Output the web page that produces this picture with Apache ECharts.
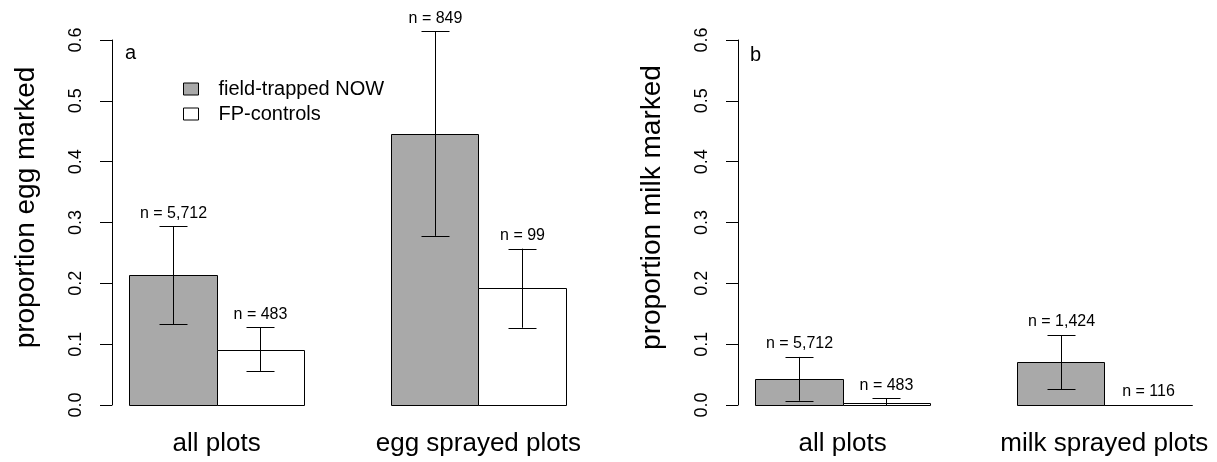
<!DOCTYPE html>
<html>
<head>
<meta charset="utf-8">
<script src="https://cdn.jsdelivr.net/npm/echarts@6/dist/echarts.min.js"></script>
<style>
  html, body { margin: 0; padding: 0; background: #fff; }
  #main { width: 1217px; height: 462px; }
</style>
</head>
<body>
<div id="main"></div>
<script>
// categories per panel
var catsEgg = ['all plots', 'egg sprayed plots'];
var catsMilk = ['all plots', 'milk sprayed plots'];
var yTicks = [0, 0.1, 0.2, 0.3, 0.4, 0.5, 0.6];

// panel a: egg marked
var eggField = [0.213, 0.445];
var eggFieldLo = [0.133, 0.278];
var eggFieldHi = [0.294, 0.614];
var eggFieldN = ['5,712', '849'];
var eggCtrl = [0.091, 0.193];
var eggCtrlLo = [0.056, 0.127];
var eggCtrlHi = [0.128, 0.257];
var eggCtrlN = ['483', '99'];

// panel b: milk marked
var milkField = [0.043, 0.070];
var milkFieldLo = [0.007, 0.026];
var milkFieldHi = [0.079, 0.115];
var milkFieldN = ['5,712', '1,424'];
var milkCtrl = [0.004, 0.0];
var milkCtrlLo = [0.0, 0.0];
var milkCtrlHi = [0.011, 0.0];
var milkCtrlN = ['483', '116'];

var FONT = '"Liberation Sans", Arial, sans-serif';
var GREY = '#a9a9a9';

// barplot-like x positions: groups centred at 2 and 5, bars of width 1
function rows(vals, lo, hi, offset) {
  return vals.map(function (v, i) {
    return [2 + 3 * i + offset, v, lo[i], hi[i]];
  });
}

function barRenderer(labels) {
  return function (params, api) {
    var x = api.value(0), v = api.value(1), lo = api.value(2), hi = api.value(3);
    var p0 = api.coord([x - 0.5, 0]);
    var p1 = api.coord([x + 0.5, v]);
    var top = api.coord([x, hi]);
    var bot = api.coord([x, lo]);
    var cx = Math.round(top[0]) + 0.5;
    var cap = 14;
    var ln = { stroke: '#000', lineWidth: 1 };
    return {
      type: 'group',
      children: [
        { type: 'rect',
          shape: { x: Math.round(p0[0]) + 0.5, y: Math.round(p1[1]) + 0.5,
                   width: Math.round(p1[0]) - Math.round(p0[0]),
                   height: Math.round(p0[1]) - Math.round(p1[1]) },
          style: { fill: api.visual('color'), stroke: '#000', lineWidth: 1 } },
        { type: 'line', shape: { x1: cx, y1: top[1], x2: cx, y2: bot[1] }, style: ln },
        { type: 'line', shape: { x1: cx - cap, y1: Math.round(top[1]) + 0.5, x2: cx + cap, y2: Math.round(top[1]) + 0.5 }, style: ln },
        { type: 'line', shape: { x1: cx - cap, y1: Math.round(bot[1]) + 0.5, x2: cx + cap, y2: Math.round(bot[1]) + 0.5 }, style: ln },
        { type: 'text',
          style: { x: cx, y: top[1] - 13, text: 'n = ' + labels[params.dataIndex],
                   fill: '#000', font: '16px ' + FONT, align: 'center', verticalAlign: 'middle' } }
      ]
    };
  };
}

function xAxisFor(cats, idx) {
  return {
    type: 'value', gridIndex: idx, min: 0.8, max: 6.2,
    axisLine: { show: false }, axisTick: { show: false }, splitLine: { show: false },
    axisLabel: {
      customValues: [2, 5],
      formatter: function (v) { return cats[Math.round((v - 2) / 3)]; },
      fontSize: 26, fontFamily: FONT, color: '#000', margin: 26
    }
  };
}

function yAxisFor(title, idx) {
  return {
    type: 'value', gridIndex: idx, min: 0, max: 0.6, interval: 0.1,
    name: title, nameLocation: 'middle', nameRotate: 90, nameGap: 72,
    nameTextStyle: { fontSize: 28, fontFamily: FONT, color: '#000', padding: [0, 0, 0, 30] },
    axisLine: { show: true, lineStyle: { color: '#000', width: 1 } },
    axisTick: { show: true, length: 12, lineStyle: { color: '#000' }, customValues: yTicks },
    splitLine: { show: false },
    axisLabel: {
      rotate: 90, fontSize: 18, fontFamily: FONT, color: '#000', margin: 27,
      customValues: yTicks,
      formatter: function (v) { return v.toFixed(1); }
    }
  };
}

function series(name, color, data, labels, idx) {
  return {
    type: 'custom', name: name, xAxisIndex: idx, yAxisIndex: idx,
    itemStyle: { color: color, borderColor: '#000', borderWidth: 1 },
    renderItem: barRenderer(labels), clip: false,
    encode: { x: 0, y: 1 },
    data: data
  };
}

var chart = echarts.init(document.getElementById('main'), null, { renderer: 'canvas' });
chart.setOption({
  animation: false,
  backgroundColor: '#fff',
  grid: [
    { left: 112, top: 40, width: 471, bottom: 57 },
    { left: 738, top: 40, width: 471, bottom: 57 }
  ],
  xAxis: [xAxisFor(catsEgg, 0), xAxisFor(catsMilk, 1)],
  yAxis: [yAxisFor('proportion egg marked', 0), yAxisFor('proportion milk marked', 1)],
  legend: {
    left: 183, top: 79, orient: 'vertical', padding: 0,
    itemWidth: 15, itemHeight: 12, itemGap: 5, icon: 'rect',
    textStyle: { fontSize: 20, fontFamily: FONT, color: '#000', padding: [0, 0, 0, 15] },
    data: [
      { name: 'field-trapped NOW', itemStyle: { color: GREY, borderColor: '#000', borderWidth: 1 } },
      { name: 'FP-controls', itemStyle: { color: '#fff', borderColor: '#000', borderWidth: 1 } }
    ],
    selectedMode: false
  },
  graphic: [
    { type: 'text', left: 125, top: 43, style: { text: 'a', font: '20px ' + FONT, fill: '#000' } },
    { type: 'text', left: 750, top: 45, style: { text: 'b', font: '20px ' + FONT, fill: '#000' } }
  ],
  series: [
    series('field-trapped NOW', GREY, rows(eggField, eggFieldLo, eggFieldHi, -0.5), eggFieldN, 0),
    series('FP-controls', '#fff', rows(eggCtrl, eggCtrlLo, eggCtrlHi, 0.5), eggCtrlN, 0),
    series('field-trapped NOW', GREY, rows(milkField, milkFieldLo, milkFieldHi, -0.5), milkFieldN, 1),
    series('FP-controls', '#fff', rows(milkCtrl, milkCtrlLo, milkCtrlHi, 0.5), milkCtrlN, 1)
  ]
});
</script>
</body>
</html>
